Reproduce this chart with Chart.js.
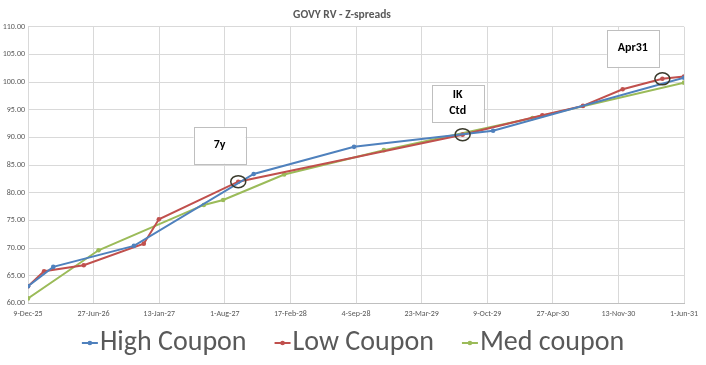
<!DOCTYPE html>
<html>
<head>
<meta charset="utf-8">
<script src="https://cdn.jsdelivr.net/npm/chart.js@4.4.1/dist/chart.umd.min.js"></script>
<style>
  html, body { margin: 0; padding: 0; background: #ffffff; }
  #wrap { width: 706px; height: 365px; }
</style>
</head>
<body>
<div id="wrap"><canvas id="chart"></canvas></div>
<script>
// Dados (datas de vencimento e Z-spreads)
const startDate = '2025-12-09';

const highDates  = ['2025-12-09', '2026-02-24', '2026-10-28', '2027-10-28', '2028-08-29', '2029-10-27', '2031-06-01'];
const highValues = [63.1, 66.6, 70.4, 83.4, 88.3, 91.2, 100.8];

const lowDates  = ['2025-12-09', '2026-01-27', '2026-05-28', '2026-11-27', '2027-01-12', '2027-09-11', '2029-07-26', '2030-03-26', '2030-07-28', '2030-11-26', '2031-03-27', '2031-06-01'];
const lowValues = [63.1, 65.8, 66.9, 70.8, 75.2, 82.0, 90.5, 94.0, 95.7, 98.7, 100.6, 101.0];

const medDates  = ['2025-12-09', '2026-07-12', '2027-05-29', '2027-07-27', '2028-01-29', '2028-11-28', '2030-02-24', '2031-06-01'];
const medValues = [60.9, 69.6, 77.8, 78.7, 83.3, 87.7, 93.5, 99.9];

const seriesNames = ['High Coupon', 'Low Coupon', 'Med coupon'];
const monthNames = ['Jan', 'Feb', 'Mar', 'Apr', 'May', 'Jun', 'Jul', 'Aug', 'Sep', 'Oct', 'Nov', 'Dec'];

// Caixas de texto e círculos (ponto destacado da série Low Coupon)
const notes = [
    { lines: ['7y'], boxDate: '2027-07-16', boxValue: 88.6, circleIndex: 5 },
    { lines: ['IK', 'Ctd'], boxDate: '2029-07-11', boxValue: 96.2, circleIndex: 6 },
    { lines: ['Apr31'], boxDate: '2030-12-27', boxValue: 106.1, circleIndex: 10 }
];

const DAY = 86400000;
function dayIndex(s) {
    return (Date.parse(s + 'T00:00:00Z') - Date.parse(startDate + 'T00:00:00Z')) / DAY;
}
function formatDay(n) {
    const d = new Date(Date.parse(startDate + 'T00:00:00Z') + n * DAY);
    return d.getUTCDate() + '-' + monthNames[d.getUTCMonth()] + '-' + String(d.getUTCFullYear()).slice(2);
}
function toPoints(dates, values) {
    return dates.map((s, i) => ({ x: dayIndex(s), y: values[i] }));
}

const colors = ['#4F81BD', '#C0504D', '#9BBB59'];
const textGray = '#595959';
const fontFamily = 'Carlito, Lato, "Liberation Sans", sans-serif';

function makeDataset(i, dates, values) {
    return {
        label: seriesNames[i],
        data: toPoints(dates, values),
        borderColor: colors[i],
        backgroundColor: colors[i],
        borderWidth: 2,
        pointRadius: 2.3,
        pointHoverRadius: 2.3,
        pointBorderWidth: 0,
        tension: 0
    };
}

// Plugin simples para as caixas e círculos
const notesPlugin = {
    id: 'notes',
    afterDatasetsDraw(chart) {
        const ctx = chart.ctx;
        const xs = chart.scales.x, ys = chart.scales.y;
        const lowMeta = chart.getDatasetMeta(1);
        ctx.save();
        notes.forEach(n => {
            const pt = lowMeta.data[n.circleIndex];
            ctx.beginPath();
            ctx.ellipse(pt.x, pt.y, 7.5, 6, 0, 0, Math.PI * 2);
            ctx.lineWidth = 1.5;
            ctx.strokeStyle = '#3a3a2c';
            ctx.stroke();

            const cx = xs.getPixelForValue(dayIndex(n.boxDate));
            const cy = ys.getPixelForValue(n.boxValue);
            const w = 52, h = 37;
            ctx.fillStyle = '#ffffff';
            ctx.fillRect(cx - w / 2, cy - h / 2, w, h);
            ctx.lineWidth = 1;
            ctx.strokeStyle = '#bfbfbf';
            ctx.strokeRect(Math.round(cx - w / 2) + 0.5, Math.round(cy - h / 2) + 0.5, w, h);
            ctx.fillStyle = '#000000';
            ctx.font = 'bold 12px ' + fontFamily;
            ctx.textAlign = 'center';
            ctx.textBaseline = 'middle';
            const lh = 16;
            n.lines.forEach((t, k) => {
                ctx.fillText(t, cx, cy + (k - (n.lines.length - 1) / 2) * lh);
            });
        });
        ctx.restore();
    }
};

// Legenda desenhada à mão (marcador colado ao texto, como no Excel)
const legendPlugin = {
    id: 'excelLegend',
    afterDraw(chart) {
        const ctx = chart.ctx;
        const mark = 16, gap = 2, spacing = 28;
        const y = chart.height - 22;
        ctx.save();
        ctx.font = '28px ' + fontFamily;
        ctx.textBaseline = 'middle';
        ctx.textAlign = 'left';
        const widths = chart.data.datasets.map(d => ctx.measureText(d.label).width);
        const total = widths.reduce((a, w) => a + mark + gap + w, 0) + spacing * (widths.length - 1);
        let x = chart.width / 2 - total / 2;
        chart.data.datasets.forEach((d, i) => {
            ctx.strokeStyle = d.borderColor;
            ctx.lineWidth = 2;
            ctx.beginPath();
            ctx.moveTo(x, y);
            ctx.lineTo(x + mark, y);
            ctx.stroke();
            ctx.fillStyle = d.borderColor;
            ctx.beginPath();
            ctx.arc(x + mark / 2, y, 2.3, 0, Math.PI * 2);
            ctx.fill();
            ctx.fillStyle = textGray;
            ctx.fillText(d.label, x + mark + gap, y);
            x += mark + gap + widths[i] + spacing;
        });
        ctx.restore();
    }
};

const ctx = document.getElementById('chart').getContext('2d');
const chart = new Chart(ctx, {
    type: 'line',
    data: {
        datasets: [
            makeDataset(0, highDates, highValues),
            makeDataset(1, lowDates, lowValues),
            makeDataset(2, medDates, medValues)
        ]
    },
    options: {
        responsive: true,
        maintainAspectRatio: false,
        animation: false,
        events: [],
        layout: { padding: { left: 0, right: 22, top: 0, bottom: 40 } },
        scales: {
            x: {
                type: 'linear',
                min: 0,
                max: 2000,
                grid: { color: '#d9d9d9', drawTicks: false },
                border: { color: '#bfbfbf' },
                ticks: {
                    stepSize: 200,
                    autoSkip: false,
                    maxRotation: 0,
                    padding: 6,
                    color: textGray,
                    font: { family: fontFamily, size: 8 },
                    callback: v => formatDay(v)
                }
            },
            y: {
                min: 60,
                max: 110,
                grid: { color: '#d9d9d9', drawTicks: false },
                border: { display: false },
                afterFit: scale => { scale.width = 28; },
                ticks: {
                    stepSize: 5,
                    padding: 3,
                    color: textGray,
                    font: { family: fontFamily, size: 8 },
                    callback: v => v.toFixed(2)
                }
            }
        },
        plugins: {
            title: {
                display: true,
                text: 'GOVY RV - Z-spreads',
                color: textGray,
                font: { family: fontFamily, size: 11.5, weight: 'bold' },
                padding: { top: 8, bottom: 5 }
            },
            legend: { display: false },
            tooltip: { enabled: false }
        }
    },
    plugins: [notesPlugin, legendPlugin]
});
</script>
</body>
</html>
